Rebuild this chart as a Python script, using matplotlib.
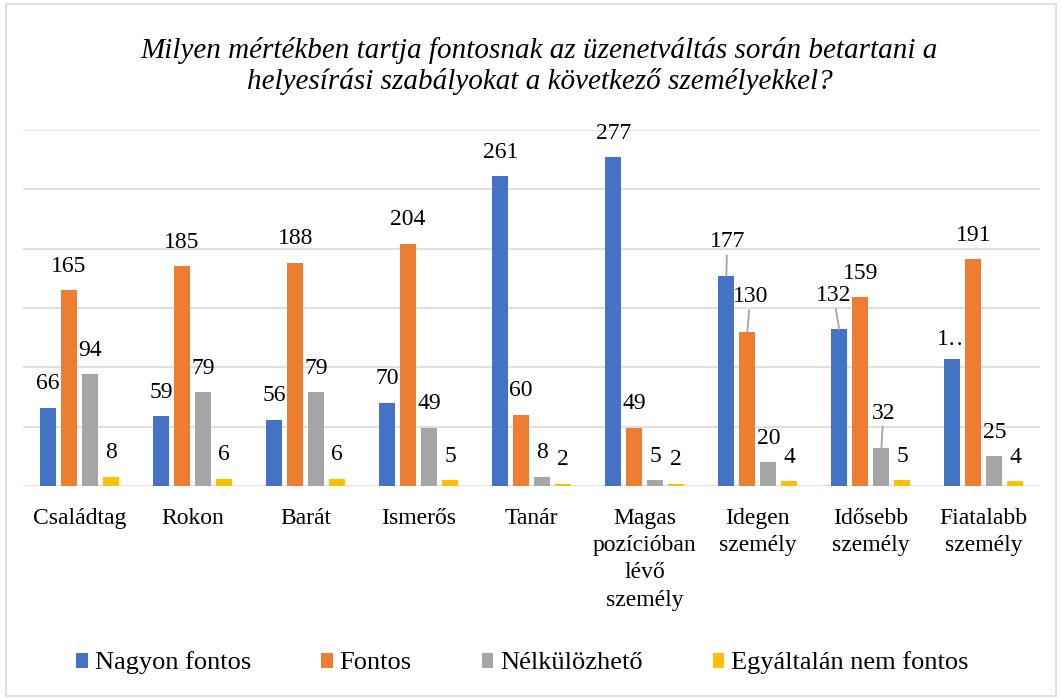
import matplotlib.pyplot as plt
from matplotlib.patches import Rectangle, Patch

plt.rcParams['font.family'] = ['Liberation Serif', 'DejaVu Serif']

CATEGORIES = ['Családtag', 'Rokon', 'Barát', 'Ismerős', 'Tanár',
              'Magas\npozícióban\nlévő\nszemély', 'Idegen\nszemély',
              'Idősebb\nszemély', 'Fiatalabb\nszemély']
SERIES = ['Nagyon fontos', 'Fontos', 'Nélkülözhető', 'Egyáltalán nem fontos']
NAGYON = [66, 59, 56, 70, 261, 277, 177, 132, 107]
FONTOS = [165, 185, 188, 204, 60, 49, 130, 159, 191]
NELKUL = [94, 79, 79, 49, 8, 5, 20, 32, 25]
EGYALT = [8, 6, 6, 5, 2, 2, 4, 5, 4]
COLORS = ['#4472C4', '#ED7D31', '#A5A5A5', '#FFC000']

TITLE = ('Milyen mértékben tartja fontosnak az üzenetváltás során betartani a\n'
         'helyesírási szabályokat a következő személyekkel?')

# label tweaks: (series, category) -> (dx px, dy px, text, leader line)
SPECIAL = {
    (0, 6): (1, 10, None, True),
    (1, 6): (3, 11, None, True),
    (0, 7): (-6, 10, None, True),
    (2, 7): (2, 11, None, True),
    (0, 8): (2, -4, '1…', False),
}

fig = plt.figure(figsize=(10.62, 6.99), dpi=100)
fig.patches.append(Rectangle((0.006, 0.004), 0.988, 0.99, transform=fig.transFigure,
                             fill=False, edgecolor='#d9d9d9', linewidth=1.2))
ax = fig.add_axes([0.0217, 0.3047, 0.958, 0.5093])

data = [NAGYON, FONTOS, NELKUL, EGYALT]
step = 0.186
width = 0.142
for i, vals in enumerate(data):
    xs = [c + (i - 1.5) * step for c in range(len(CATEGORIES))]
    ax.bar(xs, vals, width=width, color=COLORS[i], zorder=3)
    for j, (x, v) in enumerate(zip(xs, vals)):
        dx, dy, txt, leader = SPECIAL.get((i, j), (0, 0, None, False))
        if txt is None:
            txt = str(v)
        arrow = None
        if leader:
            arrow = dict(arrowstyle='-', color='#a6a6a6', lw=1.3, shrinkA=0, shrinkB=0)
        ax.annotate(txt, xy=(x, v), xytext=(dx, 24 + dy), textcoords='offset pixels',
                    ha='center', va='center', fontsize=17, arrowprops=arrow)

ax.set_xlim(-0.5, len(CATEGORIES) - 0.5)
ax.set_ylim(0, 300)
ax.set_yticks(range(0, 301, 50))
ax.yaxis.grid(True, color='#d9d9d9', linewidth=1.2, zorder=0)
ax.set_axisbelow(True)
ax.tick_params(left=False, labelleft=False, bottom=False, pad=12)
ax.set_xticks(range(len(CATEGORIES)))
ax.set_xticklabels(CATEGORIES, fontsize=17, linespacing=1.4, va='top')
for s in ax.spines.values():
    s.set_visible(False)

fig.text(0.508, 0.906, TITLE, ha='center', va='center', fontsize=21,
         style='italic', linespacing=1.2)

handles = [Patch(facecolor=c) for c in COLORS]
fig.legend(handles, SERIES, loc='center', bbox_to_anchor=(0.492, 0.0515), ncol=4,
           frameon=False, fontsize=19, handlelength=0.45, handleheight=0.5,
           handletextpad=0.25, columnspacing=2.65)

fig.savefig('out.png', dpi=100)
